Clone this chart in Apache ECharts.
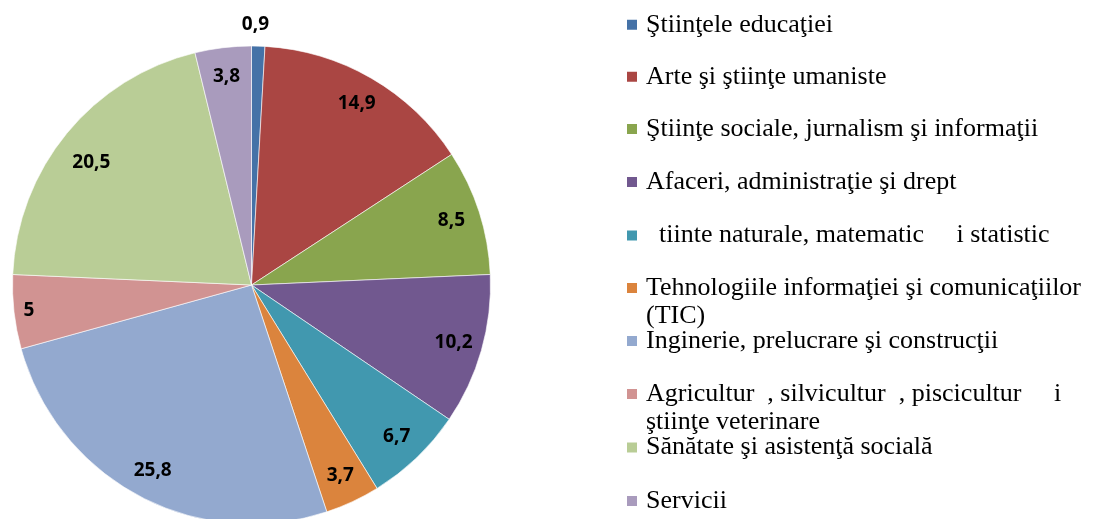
<!DOCTYPE html>
<html>
<head>
<meta charset="utf-8">
<title>Pie</title>
<script src="https://cdn.jsdelivr.net/npm/echarts/dist/echarts.min.js"></script>
<style>
  html, body { margin: 0; padding: 0; background: #fff; }
  #chart { width: 1094px; height: 519px; }
</style>
</head>
<body>
<div id="chart"></div>
<script>
// categories as they appear in the legend (font gaps kept as blanks)
var categories = [
  'Ştiinţele educaţiei',
  'Arte şi ştiinţe umaniste',
  'Ştiinţe sociale, jurnalism şi informaţii',
  'Afaceri, administraţie şi drept',
  '  tiinte naturale, matematic     i statistic',
  'Tehnologiile informaţiei şi comunicaţiilor\n(TIC)',
  'Inginerie, prelucrare şi construcţii',
  'Agricultur  , silvicultur  , piscicultur     i\nştiinţe veterinare',
  'Sănătate şi asistenţă socială',
  'Servicii'
];
var values = [0.9, 14.9, 8.5, 10.2, 6.7, 3.7, 25.8, 5, 20.5, 3.8];

var colors = ['#4572A7', '#AA4643', '#89A54E', '#71588F', '#4198AF',
              '#DB843D', '#93A9CF', '#D19392', '#B9CD96', '#A99BBD'];

var chart = echarts.init(document.getElementById('chart'));

var pieData = categories.map(function (name, i) {
  return { name: name, value: values[i] };
});

// label ring: same slices, transparent, only to place the labels further out
var labelOffsets = { 0: [-2, -50], 7: [-14, 2], 8: [2, 11] };
var labelData = categories.map(function (name, i) {
  var item = { name: name, value: values[i] };
  if (labelOffsets[i]) item.label = { offset: labelOffsets[i] };
  return item;
});

// one legend per row so the wrapped ones do not push the others down
var lineH = 28;
var rowCenters = [24.7, 76.7, 129, 182, 235.5, 288, 341, 394, 447.5, 501];
var legends = categories.map(function (name, i) {
  var twoLines = name.indexOf('\n') >= 0;
  return {
    data: [name],
    left: 625,
    top: rowCenters[i] - (twoLines ? 1.5 * lineH : 0.5 * lineH),
    orient: 'vertical',
    padding: 0,
    itemWidth: 12,
    itemHeight: 12,
    icon: 'rect',
    selectedMode: false,
    // blank line on top so the first line sits level with the marker
    formatter: function (n) {
      return twoLines ? ' \n' + n : n;
    },
    textStyle: {
      fontFamily: 'Liberation Serif',
      fontSize: 26,
      lineHeight: lineH,
      color: '#000',
      padding: [0, 0, 0, 3]
    }
  };
});

chart.setOption({
  backgroundColor: '#fff',
  color: colors,
  animation: false,
  legend: legends,
  series: [
    {
      name: 'main',
      type: 'pie',
      center: [251.5, 285],
      radius: [0, 239],
      startAngle: 90,
      clockwise: true,
      label: { show: false },
      labelLine: { show: false },
      itemStyle: { borderColor: '#fff', borderWidth: 0.6 },
      emphasis: { disabled: true },
      data: pieData
    },
    {
      name: 'labels',
      type: 'pie',
      center: [251.5, 285],
      radius: [175, 239],
      startAngle: 90,
      clockwise: true,
      silent: true,
      itemStyle: { color: 'transparent', borderWidth: 0 },
      emphasis: { disabled: true },
      labelLine: { show: false },
      label: {
        show: true,
        position: 'inside',
        fontFamily: 'Open Sans',
        fontWeight: 'bold',
        fontSize: 19,
        color: '#000',
        formatter: function (p) {
          return String(p.value).replace('.', ',');
        }
      },
      data: labelData
    }
  ]
});
</script>
</body>
</html>
